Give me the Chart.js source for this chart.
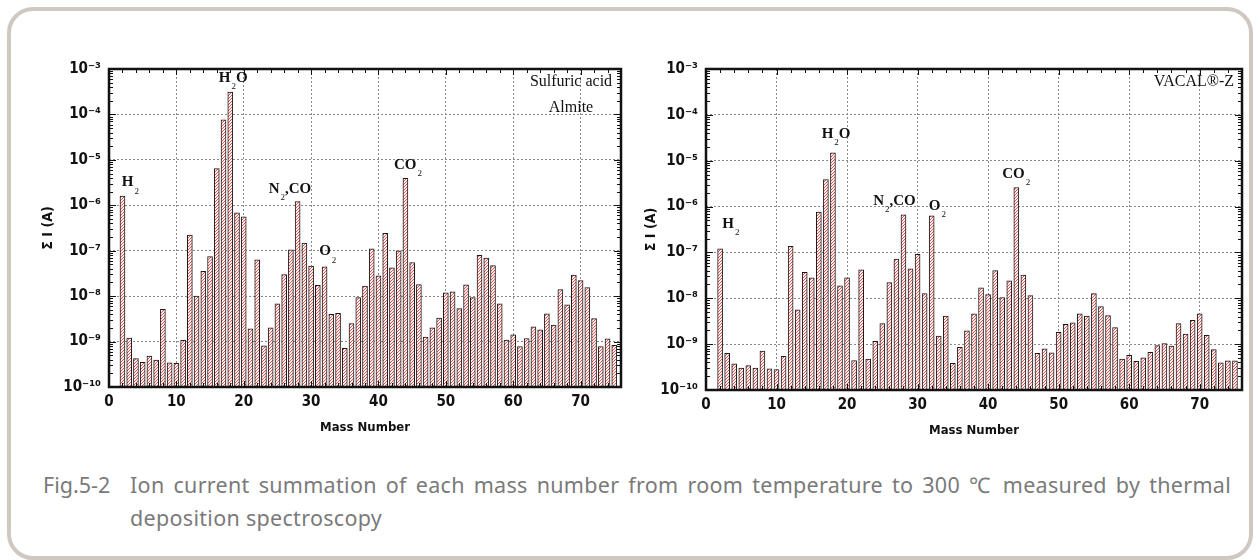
<!DOCTYPE html>
<html>
<head>
<meta charset="utf-8">
<script src="https://cdn.jsdelivr.net/npm/chart.js@4.4.1/dist/chart.umd.min.js"></script>
<style>
  body { margin:0; background:#fff; width:1260px; height:560px; overflow:hidden; position:relative; }
  .marco { position:absolute; left:7px; top:7px; width:1246px; height:553px; box-sizing:border-box;
           border:4px solid #cfc8c1; border-radius:26px; }
  #cIzq { position:absolute; left:0; top:0; }
  #cDer { position:absolute; left:640px; top:0; }
  .leyenda { position:absolute; left:43px; top:468px; width:1188px; display:flex;
             font-family:'Noto Sans', 'Open Sans', sans-serif; font-size:21.5px; line-height:33px; color:#7a7a7a; }
  .leyenda .num { flex:0 0 87px; }
  .leyenda .txt { flex:1; text-align:justify; letter-spacing:0.3px; }
</style>
</head>
<body>
<div class="marco"></div>
<canvas id="cIzq" width="640" height="450"></canvas>
<canvas id="cDer" width="620" height="450"></canvas>
<div class="leyenda"><span class="num">Fig.5-2</span><span class="txt">Ion current summation of each mass number from room temperature to 300 ℃ measured by thermal deposition spectroscopy</span></div>

<script>
// ── Datos ──
const MASAS = [2,3,4,5,6,7,8,9,10,11,12,13,14,15,16,17,18,19,20,21,22,23,24,25,26,27,28,29,30,31,32,33,34,35,36,37,38,39,
  40,41,42,43,44,45,46,47,48,49,50,51,52,53,54,55,56,57,58,59,60,61,62,63,64,65,66,67,68,69,70,71,72,73,74,75];

// Sulfuric acid Almite
const SUMA_IZQ = [1.6e-6,1.2e-9,4.2e-10,3.5e-10,4.8e-10,3.9e-10,5.1e-9,3.4e-10,3.3e-10,1.07e-9,
  2.2e-7,1.0e-8,3.5e-8,7.4e-8,6.4e-6,7.6e-5,3.1e-4,6.8e-7,5.6e-7,1.9e-9,
  6.3e-8,8.1e-10,2.0e-9,6.8e-9,3.0e-8,1.05e-7,1.2e-6,1.48e-7,4.6e-8,1.74e-8,
  4.4e-8,4.0e-9,4.2e-9,7.1e-10,2.5e-9,9.3e-9,1.66e-8,1.1e-7,2.8e-8,2.4e-7,
  4.2e-8,1.0e-7,3.9e-6,5.5e-8,1.8e-8,1.26e-9,2.0e-9,3.3e-9,1.18e-8,1.25e-8,
  5.3e-9,1.78e-8,9.3e-9,7.9e-8,6.9e-8,4.7e-8,6.8e-9,1.08e-9,1.41e-9,7.8e-10,
  1.17e-9,2.1e-9,1.82e-9,4.1e-9,2.3e-9,1.4e-8,6.4e-9,2.9e-8,2.2e-8,1.55e-8,
  3.2e-9,7.8e-10,1.15e-9,8.3e-10];

// VACAL-Z
const SUMA_DER = [1.2e-7,6.3e-10,3.7e-10,3.0e-10,3.4e-10,3.0e-10,7.1e-10,2.9e-10,2.8e-10,5.4e-10,
  1.35e-7,5.6e-9,3.7e-8,2.8e-8,7.6e-7,3.9e-6,1.48e-5,1.86e-8,2.8e-8,4.4e-10,
  4.2e-8,4.7e-10,1.15e-9,2.8e-9,2.2e-8,7.2e-8,6.6e-7,4.4e-8,9.1e-8,1.26e-8,
  6.3e-7,1.49e-9,4.1e-9,3.8e-10,8.5e-10,1.95e-9,4.6e-9,1.7e-8,1.2e-8,4.0e-8,
  1.03e-8,2.4e-8,2.6e-6,3.2e-8,1.14e-8,6.3e-10,7.9e-10,6.5e-10,1.82e-9,2.7e-9,
  2.9e-9,4.6e-9,4.1e-9,1.26e-8,6.6e-9,4.2e-9,2.3e-9,4.7e-10,5.7e-10,4.2e-10,
  5.0e-10,6.6e-10,9.3e-10,1.03e-9,9.1e-10,2.8e-9,1.66e-9,3.3e-9,4.6e-9,1.55e-9,
  7.6e-10,3.9e-10,4.3e-10,4.3e-10];

const X_TICKS = [0,10,20,30,40,50,60,70];
const Y_MIN = 1e-10, Y_MAX = 1e-3;

// etiquetas de especies (posición en coordenadas de datos)
const ETIQ_IZQ = [
  { x:1.9,  y:Math.pow(10,-5.50), partes:['H','2'] },
  { x:16.3, y:Math.pow(10,-3.20), partes:['H','2','O'] },
  { x:23.7, y:Math.pow(10,-5.64), partes:['N','2',',CO'] },
  { x:31.2, y:Math.pow(10,-7.02), partes:['O','2'] },
  { x:42.3, y:Math.pow(10,-5.11), partes:['CO','2'] },
];
const ETIQ_DER = [
  { x:2.3,  y:Math.pow(10,-6.38), partes:['H','2'] },
  { x:16.4, y:Math.pow(10,-4.42), partes:['H','2','O'] },
  { x:23.7, y:Math.pow(10,-5.88), partes:['N','2',',CO'] },
  { x:31.6, y:Math.pow(10,-5.98), partes:['O','2'] },
  { x:42.0, y:Math.pow(10,-5.29), partes:['CO','2'] },
];

const FUENTE_EJE = "'Liberation Sans Narrow', 'DejaVu Sans Condensed', 'Arial Narrow', sans-serif";
const SUP = {'0':'⁰','1':'¹','2':'²','3':'³','4':'⁴','5':'⁵','6':'⁶','7':'⁷','8':'⁸','9':'⁹','-':'⁻'};
const esDecada = v => { const l = Math.log10(v); return Math.abs(l - Math.round(l)) < 1e-6; };

// ── Relleno rayado de las barras ──
function patronRayado() {
  const c = document.createElement('canvas');
  c.width = 3; c.height = 3;
  const g = c.getContext('2d');
  g.fillStyle = '#fff4f4'; g.fillRect(0,0,3,3);
  g.fillStyle = '#e85452';
  g.fillRect(2,0,1,1); g.fillRect(1,1,1,1); g.fillRect(0,2,1,1);
  return g.createPattern(c, 'repeat');
}

// ── Marco del área, marcas interiores y rótulos ──
const marcoPlugin = {
  id: 'marco',
  afterDraw(chart, args, opts) {
    const { ctx, chartArea: a, scales: { x, y } } = chart;
    ctx.save();
    ctx.strokeStyle = '#111';
    ctx.lineWidth = 1;
    // marcas eje y (izq y der)
    for (let e = -10; e < -3; e++) {
      for (let s = 1; s <= 9; s++) {
        const py = Math.round(y.getPixelForValue(s * Math.pow(10, e))) + 0.5;
        const L = s === 1 ? 7 : 4;
        ctx.beginPath();
        ctx.moveTo(a.left, py); ctx.lineTo(a.left + L, py);
        ctx.moveTo(a.right, py); ctx.lineTo(a.right - L, py);
        ctx.stroke();
      }
    }
    // marcas eje x (abajo y arriba)
    for (let m = 2; m < 76; m += 2) {
      const px = Math.round(x.getPixelForValue(m)) + 0.5;
      const L = m % 10 === 0 ? 6 : 4;
      ctx.beginPath();
      ctx.moveTo(px, a.top); ctx.lineTo(px, a.top + L);
      ctx.moveTo(px, a.bottom); ctx.lineTo(px, a.bottom - L);
      ctx.stroke();
    }
    ctx.lineWidth = 2.5;
    ctx.strokeRect(a.left, a.top, a.right - a.left, a.bottom - a.top);

    // especies
    ctx.fillStyle = '#111';
    ctx.textBaseline = 'middle';
    opts.etiquetas.forEach(et => {
      let px = x.getPixelForValue(et.x);
      const py = y.getPixelForValue(et.y);
      et.partes.forEach((p, i) => {
        const sub = i % 2 === 1;
        ctx.font = sub ? "9px 'Liberation Serif', serif" : "bold 15px 'Liberation Serif', serif";
        ctx.fillText(p, px, sub ? py + 9 : py);
        px += ctx.measureText(p).width + (sub ? 0 : 1);
      });
    });

    // rótulo del material
    ctx.font = "16px 'Liberation Serif', serif";
    ctx.textAlign = opts.rotuloAlign;
    opts.rotulo.forEach((t, i) => ctx.fillText(t, a.right - opts.rotuloDx, a.top + 13 + i * 26));
    ctx.restore();
  }
};

function crearGrafico(id, valores, cfg) {
  const ctx = document.getElementById(id);
  return new Chart(ctx, {
    type: 'bar',
    data: {
      datasets: [{
        data: MASAS.map((m, i) => ({ x: m, y: valores[i] })),
        backgroundColor: patronRayado(),
        borderColor: '#1a1a1a',
        borderWidth: { left: 1, right: 1, top: 1, bottom: 0 },
        borderSkipped: 'bottom',
        barThickness: 5,
      }]
    },
    options: {
      responsive: false, animation: false,
      layout: { padding: { left: cfg.padIzq, top: 69, right: cfg.padDer, bottom: 0 } },
      plugins: {
        legend: { display: false }, tooltip: { enabled: false },
        marco: { etiquetas: cfg.etiquetas, rotulo: cfg.rotulo, rotuloDx: cfg.rotuloDx, rotuloAlign: cfg.rotuloAlign }
      },
      scales: {
        x: {
          type: 'linear', min: 0, max: 76, offset: false,
          afterBuildTicks: s => { s.ticks = X_TICKS.map(v => ({ value: v })); },
          afterFit: s => { s.height = 450 - cfg.base; },
          ticks: { padding: 6, color: '#111', font: { family: FUENTE_EJE, size: 15, weight: 'bold' }, autoSkip: false, maxRotation: 0 },
          grid: { offset: false, drawTicks: false, color: '#8a8a8a', lineWidth: 1 },
          border: { display: false, dash: [2, 2] },
          title: { display: true, text: 'Mass Number', color: '#111',
                   font: { family: FUENTE_EJE, size: 13, weight: 'bold' }, padding: { top: 0, bottom: cfg.tituloX } }
        },
        y: {
          type: 'logarithmic', min: Y_MIN, max: Y_MAX,
          afterFit: s => { s.width = cfg.anchoY; },
          ticks: {
            padding: 8, color: '#111', autoSkip: false,
            font: { family: FUENTE_EJE, size: 15, weight: 'bold' },
            callback: v => esDecada(v) ? '10' + String(Math.round(Math.log10(v))).split('').map(c => SUP[c]).join('') : ''
          },
          grid: { drawTicks: false, lineWidth: 1, color: c => esDecada(c.tick.value) ? '#8a8a8a' : 'rgba(0,0,0,0)' },
          border: { display: false, dash: [2, 2] },
          title: { display: true, text: 'Σ I (A)', color: '#111',
                   font: { family: FUENTE_EJE, size: 14, weight: 'bold' }, padding: { top: cfg.tituloY, bottom: 0 } }
        }
      }
    },
    plugins: [marcoPlugin]
  });
}

crearGrafico('cIzq', SUMA_IZQ, { padIzq: 40, padDer: 19, anchoY: 69, base: 387, tituloX: 15, tituloY: 0,
  etiquetas: ETIQ_IZQ, rotulo: ['Sulfuric acid', 'Almite'], rotuloDx: 50, rotuloAlign: 'center' });
crearGrafico('cDer', SUMA_DER, { padIzq: 3, padDer: 18, anchoY: 63, base: 390, tituloX: 12, tituloY: 0,
  etiquetas: ETIQ_DER, rotulo: ['VACAL®-Z'], rotuloDx: 8, rotuloAlign: 'right' });
</script>
</body>
</html>
